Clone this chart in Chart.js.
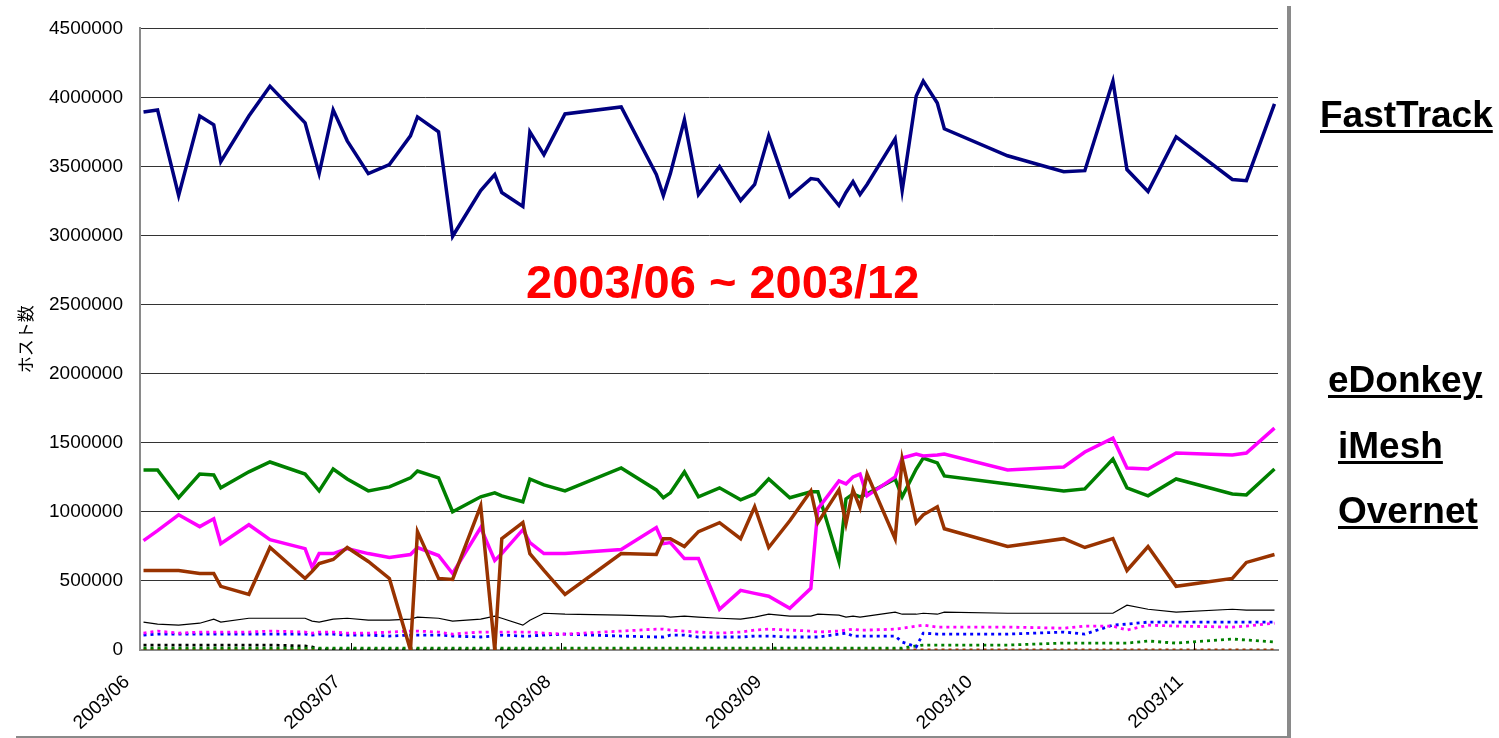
<!DOCTYPE html>
<html>
<head>
<meta charset="utf-8">
<script src="https://cdn.jsdelivr.net/npm/chart.js@4.4.0/dist/chart.umd.min.js"></script>
<style>
html,body{margin:0;padding:0;background:#fff;width:1499px;height:738px;overflow:hidden;position:relative;font-family:"Liberation Sans",Arial,sans-serif;}
#wrap{position:absolute;left:0;top:0;width:1499px;height:738px;}
.lbl{position:absolute;font-weight:bold;font-size:37px;line-height:37px;color:#000;text-decoration:underline;text-decoration-thickness:3px;text-underline-offset:3px;white-space:nowrap;}
#title{position:absolute;left:526px;top:258px;font-weight:bold;font-size:47px;line-height:47px;color:#ff0000;white-space:nowrap;}
#vline{position:absolute;left:1287px;top:6px;width:4px;height:732px;background:#8a8a8a;}
#hline{position:absolute;left:16px;top:736px;width:1275px;height:2px;background:#8a8a8a;}
</style>
</head>
<body>
<div id="wrap"><canvas id="c" width="1499" height="738"></canvas></div>
<div id="title">2003/06 ~ 2003/12</div>
<div class="lbl" style="left:1320px;top:96px;">FastTrack</div>
<div class="lbl" style="left:1328px;top:361px;">eDonkey</div>
<div class="lbl" style="left:1338px;top:427px;">iMesh</div>
<div class="lbl" style="left:1338px;top:492px;">Overnet</div>
<div id="vline"></div>
<div id="hline"></div>
<script>
// x values: days since 2003/06/01
const days = [0.5, 2.5, 5.5, 8.5, 10.5, 11.5, 15.5, 18.5, 23.5, 24.5, 25.5, 27.5, 29.5, 32.5, 35.5, 38.5, 39.5, 42.5, 44.5, 48.5,
  50.5, 51.5, 54.5, 55.5, 57.5, 60.5, 68.5, 73.5, 74.5, 75.5, 77.5, 79.5, 82.5, 85.5, 87.5, 89.5, 92.5, 95.5, 96.5, 99.5,
  100.5, 101.5, 102.5, 103.5, 107.5, 108.5, 110.5, 111.5, 113.5, 114.5, 123.5, 131.5, 134.5, 138.5, 140.5, 143.5, 147.5, 155.5, 157.5, 161.5];

const monthTicks = [0, 30, 60, 90, 120, 150];
const monthLabels = ['2003/06', '2003/07', '2003/08', '2003/09', '2003/10', '2003/11'];
const yTicks = [0, 500000, 1000000, 1500000, 2000000, 2500000, 3000000, 3500000, 4000000, 4500000];

const fastTrack = [3895000, 3910000, 3290000, 3866000, 3802000, 3535000, 3866000, 4082000, 3816000, 3632000, 3449000, 3910000, 3686000, 3449000, 3514000, 3722000, 3859000, 3751000, 2995000, 3326000,
  3442000, 3312000, 3211000, 3751000, 3586000, 3881000, 3931000, 3442000, 3290000, 3449000, 3838000, 3298000, 3499000, 3254000, 3370000, 3722000, 3283000, 3413000, 3406000, 3218000,
  3312000, 3391000, 3298000, 3370000, 3701000, 3326000, 4010000, 4118000, 3960000, 3773000, 3578000, 3463000, 3470000, 4118000, 3478000, 3319000, 3715000, 3406000, 3398000, 3953000];

const eDonkey = [1303000, 1303000, 1102000, 1274000, 1267000, 1174000, 1290000, 1361000, 1274000, 1213000, 1152000, 1310000, 1238000, 1152000, 1181000, 1246000, 1296000, 1246000, 1001000, 1109000,
  1138000, 1116000, 1073000, 1238000, 1195000, 1152000, 1318000, 1159000, 1102000, 1138000, 1289000, 1109000, 1174000, 1087000, 1130000, 1238000, 1102000, 1145000, 1145000, 641000,
  1094000, 1130000, 1109000, 1130000, 1238000, 1109000, 1310000, 1390000, 1354000, 1260000, 1202000, 1152000, 1166000, 1382000, 1174000, 1116000, 1238000, 1130000, 1123000, 1310000];

const iMesh = [792000, 864000, 979000, 893000, 950000, 770000, 907000, 799000, 734000, 598000, 698000, 698000, 734000, 698000, 670000, 691000, 742000, 684000, 554000, 886000,
  648000, 698000, 871000, 778000, 698000, 698000, 727000, 886000, 770000, 778000, 662000, 662000, 295000, 432000, 410000, 389000, 302000, 446000, 1022000, 1224000,
  1202000, 1253000, 1274000, 1116000, 1253000, 1390000, 1418000, 1404000, 1411000, 1418000, 1303000, 1325000, 1433000, 1534000, 1318000, 1310000, 1426000, 1411000, 1426000, 1606000];

const overnet = [576000, 576000, 576000, 554000, 554000, 461000, 403000, 742000, 518000, 569000, 626000, 655000, 742000, 641000, 518000, 0, 857000, 518000, 511000, 1044000,
  0, 806000, 922000, 698000, 576000, 403000, 698000, 691000, 806000, 806000, 749000, 857000, 922000, 806000, 1037000, 742000, 936000, 1152000, 922000, 1159000,
  914000, 1159000, 1030000, 1274000, 806000, 1382000, 922000, 979000, 1037000, 878000, 749000, 806000, 742000, 806000, 576000, 749000, 461000, 518000, 634000, 691000];

const otherSolid = [202000, 187000, 180000, 194000, 223000, 202000, 230000, 230000, 230000, 209000, 202000, 223000, 230000, 216000, 216000, 223000, 238000, 230000, 209000, 223000,
  245000, 230000, 180000, 216000, 266000, 259000, 252000, 245000, 245000, 238000, 245000, 238000, 230000, 223000, 238000, 259000, 245000, 245000, 259000, 252000,
  238000, 245000, 238000, 245000, 274000, 259000, 259000, 266000, 259000, 274000, 266000, 266000, 266000, 266000, 324000, 295000, 274000, 295000, 288000, 288000];

const dotMagenta = [122000, 137000, 122000, 130000, 130000, 130000, 130000, 137000, 130000, 122000, 130000, 130000, 122000, 122000, 130000, 137000, 137000, 130000, 115000, 130000,
  130000, 130000, 130000, 130000, 122000, 115000, 137000, 151000, 151000, 144000, 137000, 130000, 122000, 130000, 144000, 151000, 144000, 137000, 130000, 137000,
  144000, 151000, 144000, 144000, 151000, 158000, 173000, 180000, 166000, 166000, 166000, 158000, 173000, 173000, 144000, 180000, 173000, 166000, 173000, 194000];

const dotBlue = [108000, 115000, 115000, 115000, 115000, 115000, 115000, 115000, 115000, 108000, 115000, 115000, 108000, 108000, 101000, 108000, 108000, 108000, 101000, 94000,
  101000, 108000, 101000, 101000, 108000, 115000, 101000, 94000, 94000, 108000, 108000, 94000, 94000, 94000, 101000, 101000, 94000, 94000, 94000, 115000,
  122000, 101000, 101000, 101000, 101000, 58000, 22000, 122000, 115000, 115000, 115000, 130000, 115000, 180000, 187000, 202000, 202000, 202000, 202000, 202000];

const dotGreen = [14000, 14000, 14000, 14000, 14000, 14000, 14000, 14000, 14000, 14000, 14000, 14000, 14000, 14000, 14000, 14000, 14000, 14000, 14000, 14000,
  14000, 14000, 14000, 14000, 14000, 14000, 14000, 14000, 14000, 14000, 14000, 14000, 14000, 14000, 14000, 14000, 14000, 14000, 14000, 14000,
  14000, 14000, 14000, 14000, 14000, 14000, 29000, 36000, 36000, 36000, 36000, 50000, 50000, 50000, 50000, 65000, 50000, 79000, 72000, 58000];

const dotBlack = [36000, 36000, 36000, 36000, 36000, 36000, 36000, 36000, 29000, 22000, 7000, 0, 0, 0, 0, 0, 0, 0, 0, 0,
  0, 0, 0, 0, 0, null, null, null, null, null, null, null, null, null, null, null, null, null, null, null,
  null, null, null, null, null, null, null, null, null, null, null, null, null, null, null, null, null, null, null, null];

const dotBrown = [0, 0, 0, 0, 0, 0, 0, 0, 0, 0, 0, 0, 0, 0, 0, 0, 0, 0, 0, 0,
  0, 0, 0, 0, 0, 0, 0, 0, 0, 0, 0, 0, 0, 0, 0, 0, 0, 0, 0, 0,
  0, 0, 0, 0, 0, 0, 0, 0, 0, 0, 0, 0, 0, 0, 0, 0, 0, 0, 0, 0];

function pts(vals) { return days.map((d, i) => ({x: d, y: vals[i]})); }
function solid(label, vals, color, w) {
  return {label, data: pts(vals), borderColor: color, backgroundColor: color, borderWidth: w, pointRadius: 0, tension: 0, fill: false, spanGaps: false};
}
function dotted(label, vals, color) {
  return {label, data: pts(vals), borderColor: color, backgroundColor: color, borderWidth: 2.8, borderDash: [3, 4], borderCapStyle: 'butt', pointRadius: 0, tension: 0, fill: false};
}

const innerTicks = {
  id: 'innerTicks',
  afterDatasetsDraw(chart) {
    const xs = chart.scales.x, ys = chart.scales.y, ctx = chart.ctx;
    ctx.save();
    ctx.strokeStyle = '#000';
    ctx.lineWidth = 1;
    monthTicks.forEach(v => {
      if (v === monthTicks[0]) return;
      const px = Math.round(xs.getPixelForValue(v)) + 0.5;
      ctx.beginPath();
      ctx.moveTo(px, ys.bottom);
      ctx.lineTo(px, ys.bottom - 7);
      ctx.stroke();
    });
    ctx.restore();
  }
};

new Chart(document.getElementById('c'), {
  type: 'line',
  data: {
    datasets: [
      solid('FastTrack', fastTrack, '#000080', 3.5),
      solid('Overnet', overnet, '#993300', 3.5),
      solid('iMesh', iMesh, '#FF00FF', 3.5),
      solid('eDonkey', eDonkey, '#008000', 3.5),
      solid('other', otherSolid, '#000000', 1.2),
      dotted('other-m', dotMagenta, '#FF00FF'),
      dotted('other-b', dotBlue, '#0000FF'),
      dotted('other-g', dotGreen, '#008000'),
      dotted('other-k', dotBlack, '#000000'),
      dotted('other-r', dotBrown, '#993300')
    ]
  },
  options: {
    responsive: false,
    devicePixelRatio: 1,
    animation: false,
    layout: {padding: {top: 25, right: 221, left: 0, bottom: 0}},
    plugins: {legend: {display: false}, tooltip: {enabled: false}, title: {display: false}},
    scales: {
      x: {
        type: 'linear',
        min: 0,
        max: 162,
        afterFit(s) { s.height = 88; },
        afterBuildTicks(s) { s.ticks = monthTicks.map(v => ({value: v})); },
        grid: {display: false, drawTicks: false},
        border: {display: true, color: '#8a8a8a', width: 2},
        ticks: {
          autoSkip: false,
          minRotation: 43,
          maxRotation: 43,
          padding: 21,
          labelOffset: -13,
          color: '#000',
          font: {family: '"Liberation Sans", Arial, sans-serif', size: 19},
          callback(v) { const i = monthTicks.indexOf(v); return i >= 0 ? monthLabels[i] : ''; }
        }
      },
      y: {
        min: 0,
        max: 4500000,
        afterFit(s) { s.width = 140; },
        afterBuildTicks(s) { s.ticks = yTicks.map(v => ({value: v})); },
        grid: {color: '#333', lineWidth: 1, drawTicks: false},
        border: {display: true, color: '#8a8a8a', width: 2},
        title: {
          display: true,
          text: 'ホスト数',
          color: '#000',
          padding: {top: 15, bottom: 0},
          font: {family: '"Noto Sans CJK JP", sans-serif', size: 17}
        },
        ticks: {
          padding: 17,
          color: '#000',
          font: {family: '"Liberation Sans", Arial, sans-serif', size: 19},
          callback(v) { return String(v); }
        }
      }
    }
  },
  plugins: [innerTicks]
});
</script>
</body>
</html>
